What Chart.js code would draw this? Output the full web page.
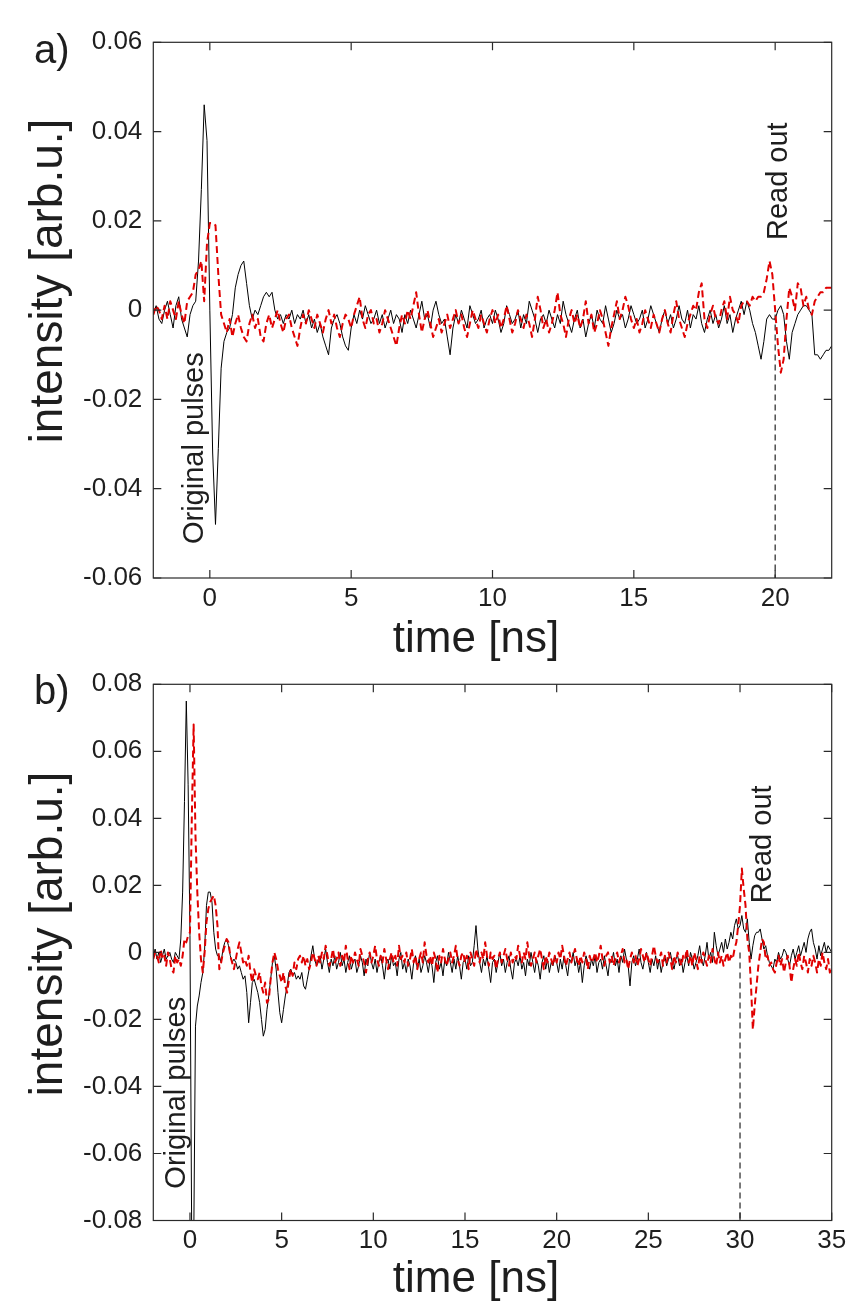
<!DOCTYPE html>
<html>
<head>
<meta charset="utf-8">
<script src="https://cdn.jsdelivr.net/npm/chart.js@4.4.1/dist/chart.umd.min.js"></script>
<style>
  html, body { margin: 0; padding: 0; background: #fff; }
  body { position: relative; width: 863px; height: 1309px; overflow: hidden; }
  canvas { position: absolute; left: 0; }
  #chartA { top: 0; }
  #chartB { top: 654px; }
</style>
</head>
<body>
<canvas id="chartA" width="863" height="670"></canvas>
<canvas id="chartB" width="863" height="655"></canvas>
<script>
/* ================================
   DATA (intensity in units of 1e-3, sampled every 0.1 ns)
================================ */
// panel a) starts at -2 ns
const A_T0 = -2;
const A_DT = 0.1;
const A_BLACK = [
  -1, 1, -2, -3, 0, 2, -1, -4, 1, 3,
  -2, -4, -6, -1, 1, 2, 11, 27, 46, 38,
  0, -32, -48, -31, -13, -7, -5, -4, -1, 5,
  8, 10, 11, 6, 1, -2, 0, -1, 1, 3,
  4, 3, 4, 0, -2, -1, -3, -1, -2, 0,
  -3, -1, -2, 0, -3, -1, -4, -2, -5, -3,
  -6, -8, -10, -4, -2, -1, -3, -6, -8, -9,
  -4, -1, -3, 0, -2, 1, -1, -3, -2, 0,
  -3, -1, -4, -2, 0, -3, -1, -2, -5, -1,
  -3, 0, -2, -4, -1, 2, -2, -1, -4, 0,
  2, -1, -3, -2, -6, -10, -4, -1, -3, 0,
  -2, -4, 1, -1, -3, -2, 0, -4, -2, -1,
  -3, 0, -2, -5, -3, 1, -1, -3, -2, 0,
  -4, -1, -3, 2, 0, -2, -5, -2, -1, -3,
  0, -2, -4, -1, -3, 2, -1, -3, -5, -2,
  0, -4, -2, -6, -3, -1, -4, 0, -2, -3,
  1, -2, -5, -3, 0, -2, -1, -4, -2, 1,
  -1, -3, -2, 0, -4, -2, 1, -1, -3, -5,
  -2, 0, -3, -1, -4, -2, 1, -2, -3, 0,
  -4, -1, -2, 1, -3, -5, -2, 0, -3, -1,
  -4, -2, 1, -3, -1, -5, -2, 0, 2, -1,
  2, 0, -3, -5, -8, -11, -7, -2, -1, -2,
  -2, 0, 1, -1, -7, -11, -5, -3, -1, 0,
  1, 1, 0, -1, -10, -10, -11, -10, -9, -9,
  -8
];
const A_RED = [
  -1, 1, 0, -2, 1, -2, 2, 0, -2, 2,
  -1, -3, 2, 3, 4, 8, 9, 11, 2, 15,
  19.5, 19.5, 19, 8, -1, -3, -5, -2, -6, -3,
  -1, -4, -6, -7, -3, -1, -4, -2, -6, -7,
  -3, -1, -4, -2, 0, -3, -5, -2, -1, -4,
  -6, -8, -4, -1, -3, 0, -2, -4, -1, -3,
  -5, -2, 0, -3, -1, -4, -6, -3, -1, -2,
  -4, -1, 1, 3, -2, -4, -1, 0, -3, -2,
  -5, -3, 0, -2, -4, -6, -8, -4, -1, -3,
  0, -2, 1, 4, -1, -5, -2, 0, -3, -6,
  -4, -2, -5, -3, -1, -4, -2, 0, -3, -1,
  -4, -6, -3, 0, -2, -4, -1, -3, -5, -2,
  0, -3, -1, -4, -2, 1, -2, -5, -3, 0,
  -2, -4, -1, -3, -6, -2, 3, 0, -4, -2,
  -5, -3, 0, 4, -1, -3, -6, -2, 0, -3,
  -1, -4, -2, 2, -3, -1, -5, -3, 0, -2,
  -5, -8, -4, -1, 2, -2, 0, 3, 1, -2,
  -4, -2, -5, -3, 0, -2, -4, -1, -3, -5,
  -2, 0, -3, -5, -1, 2, -2, -4, -6, -3,
  -1, 1, 0, 4, 6, -2, -4, -1, 1, -2,
  -3, 0, 2, -2, 3, 0, -1, -3, 1, 2,
  2, 1, 3, 2, 3, 3, 4, 7, 11, 8,
  0, -8, -14, -11, -2, 5, 3, 0, 6, 5,
  1, 3, 0, -1, 2, 3, 4, 4, 5, 5,
  5
];
const A_READOUT_T = 20;
const A_READOUT_Y = [-1, -60];
const A_XTICKS = [0, 5, 10, 15, 20];
const A_YTICKS = [-0.06, -0.04, -0.02, 0, 0.02, 0.04, 0.06];

// panel b) starts at -2 ns
const B_T0 = -2;
const B_DT = 0.1;
const B_BLACK = [
  -1, 1, -2, 0, -3, -1, 1, -2, -1, 0,
  -2, -3, 0, -1, -2, 4, 18, 45, 75, 50,
  5, -90, -90, -22, -16, -13, -9, -6, 1, 14,
  18, 18, 15, 6, 1, -1, -1, -3, 1, 3,
  4, 2, -1, -3, -2, -3, -5, -4, -6, -8,
  -7, -12, -21, -15, -9, -8, -10, -12, -15, -20,
  -25, -23, -17, -13, -8, -3, -1, -5, -12, -18,
  -21, -17, -13, -10, -6, -5, -7, -6, -8, -7,
  -8, -6, -10, -11, -8, -5, -1, 2, -2, -4,
  -3, -1, -5, -2, 1, -3, -6, -2, -4, -1,
  -5, -3, 0, -4, -2, -6, -3, -1, -5, -3,
  -2, -6, -4, -1, -3, -7, -2, -4, 0, -3,
  -5, -2, -6, -3, -1, -4, -8, -3, -2, -5,
  -1, -4, -3, -7, -2, 0, -5, -3, -6, -2,
  -4, -8, -3, -1, -5, -2, -6, -4, -1, -3,
  -6, -2, -4, -9, -3, -1, -5, -3, -7, -2,
  -4, 0, -3, -6, -2, -5, -1, -4, -8, -3,
  -2, -5, -1, -4, -3, 2, 8, 1, -3, -6,
  -2, -4, -1, -5, -9, -3, -2, -6, -3, 0,
  -4, -2, -6, -3, -1, -5, -8, -3, -2, -4,
  -1, -5, -3, -7, -2, -4, 0, -3, -6, -2,
  -4, -8, -3, -1, -5, -2, -6, -3, -4, -1,
  -3, -6, -2, -5, -1, -4, -7, -2, -3, 0,
  -4, -2, -6, -3, -9, -4, -1, -3, -5, -2,
  -4, -1, -6, -3, -2, -5, -1, -4, -7, -2,
  -3, 0, -4, -2, -6, -1, -3, 1, -2, -4,
  -10, -3, -1, -4, -2, 1, -3, -5, -2, 0,
  -3, -6, -2, -4, -1, -5, -2, -6, -3, -1,
  -4, -2, 0, -3, -5, -2, -1, -4, -2, -6,
  -3, -1, -4, 0, -2, -5, -3, -1, 2, -2,
  -4, -1, 3, -2, 0, -3, 6, 2, -1, 1,
  3, 0, 4, 1, 3, 6, 4, 8, 10, 7,
  8, 11, 7, 6, 10, 3, -2, 2, 5, 6,
  6, 7, 4, 1, 2, -1, -3, -4, -5, -2,
  -3, 0, -2, -1, 1, 0, -2, -4, -1, 1,
  -2, 0, 2, -1, 1, 3, 0, 4, 6, 7,
  3, 1, -2, 2, -1, 1, 3, 0, 2, 1,
  0
];
const B_RED = [
  -2, 0, -1, -3, 1, -2, -1, -4, 0, -2,
  -5, -6, -1, -3, -2, -4, -1, 4, 3, 5,
  6, 40, 68, 35, 18, 6, -2, -6, 0, 9,
  13, 15, 16, 17, 14, 8, -5, -3, 0, 2,
  4, 3, -1, -3, -5, -2, 1, 3, 0, -3,
  -2, -4, -1, -6, -9, -5, -7, -8, -6, -10,
  -12, -9, -15, -14, -8, -3, 0, -2, -5, -7,
  -9, -6, -10, -12, -8, -5, -7, -3, -5, -2,
  -1, -3, -1, -4, -2, -5, -3, 0, -2, -4,
  -1, -3, 0, -2, 2, -1, -4, -2, 1, -3,
  -2, 0, -4, -1, -3, 2, -2, -5, -1, -3,
  0, -2, -4, 1, -1, -3, -6, -2, 0, -3,
  -1, 2, -2, -4, -1, -3, 1, -2, -5, -2,
  0, -3, -1, -4, 2, -2, -1, -3, 0, -4,
  -2, 1, -3, -1, -5, -2, 0, -3, 3, -1,
  -3, -1, -4, 0, -2, -6, -1, -3, 1, -2,
  -4, -2, 0, -3, -1, 2, -2, -4, -1, 0,
  -3, -1, -5, 0, -2, -4, 1, -1, -3, 0,
  -2, 3, -1, -4, 0, -2, -1, -5, -2, 0,
  -3, -1, 1, -2, -4, 0, -3, -1, -2, 2,
  -1, -3, 0, -2, 3, -1, -4, -2, 0, -3,
  -1, 1, -2, -5, -1, -3, 0, -2, -4, -1,
  -3, 0, -2, 2, -1, -4, -2, 0, -3, -1,
  1, -2, -4, -1, -3, 0, -2, -5, -1, -3,
  -2, 0, -3, -1, 2, -2, -4, -1, 0, -3,
  -1, -4, -2, 0, -3, -1, 1, -3, -2, -5,
  -2, 0, -3, -1, -4, -2, 1, -1, -3, 0,
  -2, -4, -1, 2, -1, -3, -2, 0, -4, -1,
  -3, 0, -2, -5, -1, -3, 0, -2, -4, -1,
  -2, 1, -3, -1, -4, 0, -2, -5, -1, -3,
  0, -2, -4, -1, -3, 1, -2, -4, 0, -3,
  -1, -4, -2, 0, -3, -1, -2, 1, 3, 8,
  14, 25, 19, 14, 4, 0, -10, -23, -16, -10,
  -4, 0, 4, 3, -2, -1, -4, -3, -5, -6,
  -3, -1, -4, -2, -6, -3, -1, -4, -9, -5,
  -2, -4, 0, -3, -5, -1, -3, -6, -2, -4,
  -1, -3, -6, -2, -4, 0, -3, -5, -2, -6,
  -4
];
const B_READOUT_T = 30;
const B_READOUT_Y = [0, -80];
const B_XTICKS = [0, 5, 10, 15, 20, 25, 30, 35];
const B_YTICKS = [-0.08, -0.06, -0.04, -0.02, 0, 0.02, 0.04, 0.06, 0.08];

/* ================================
   HELPERS
================================ */
const FONT = '"Liberation Sans", Arial, Helvetica, sans-serif';
const INK = '#1e1e1e';
Chart.defaults.font.family = FONT;
Chart.defaults.color = INK;

function toPoints(vals, t0, dt) {
    return vals.map((v, i) => ({ x: +(t0 + i * dt).toFixed(2), y: v / 1000 }));
}

function yLabel(v) {
    return v === 0 ? '0' : v.toFixed(2);
}

// box, inward ticks and the free text (panel letter, axis titles, notes)
const framePlugin = {
    id: 'frame',
    afterDatasetsDraw(chart, args, opts) {
        const { ctx, chartArea: a, scales: { x, y } } = chart;
        ctx.save();
        ctx.strokeStyle = '#2a2a2a';
        ctx.lineWidth = 1.2;
        ctx.strokeRect(a.left, a.top, a.right - a.left, a.bottom - a.top);

        const tl = 8;
        ctx.beginPath();
        x.ticks.forEach(t => {
            const px = x.getPixelForValue(t.value);
            ctx.moveTo(px, a.bottom); ctx.lineTo(px, a.bottom - tl);
            ctx.moveTo(px, a.top); ctx.lineTo(px, a.top + tl);
        });
        y.ticks.forEach(t => {
            const py = y.getPixelForValue(t.value);
            ctx.moveTo(a.left, py); ctx.lineTo(a.left + tl, py);
            ctx.moveTo(a.right, py); ctx.lineTo(a.right - tl, py);
        });
        ctx.stroke();

        ctx.fillStyle = INK;
        ctx.textBaseline = 'alphabetic';

        // panel letter
        ctx.font = `40px ${FONT}`;
        ctx.textAlign = 'left';
        ctx.fillText(opts.panel, opts.panelPos[0], opts.panelPos[1]);

        // x title
        ctx.font = `44px ${FONT}`;
        ctx.textAlign = 'center';
        ctx.fillText(opts.xTitle, opts.xTitlePos[0], opts.xTitlePos[1]);

        // y title
        ctx.font = `46px ${FONT}`;
        ctx.save();
        ctx.translate(opts.yTitlePos[0], opts.yTitlePos[1]);
        ctx.rotate(-Math.PI / 2);
        ctx.fillText(opts.yTitle, 0, 0);
        ctx.restore();

        // vertical notes anchored in data space
        ctx.font = `29px ${FONT}`;
        ctx.textAlign = 'left';
        opts.notes.forEach(n => {
            ctx.save();
            ctx.translate(x.getPixelForValue(n.t), y.getPixelForValue(n.v));
            ctx.rotate(-Math.PI / 2);
            ctx.fillText(n.text, 0, 0);
            ctx.restore();
        });
        ctx.restore();
    }
};

function makeChart(id, cfg) {
    return new Chart(document.getElementById(id), {
        type: 'line',
        data: {
            datasets: [
                {
                    data: toPoints(cfg.red, cfg.t0, cfg.dt),
                    borderColor: '#e00000',
                    borderWidth: 2,
                    borderDash: [7, 4],
                    order: 0
                },
                {
                    data: toPoints(cfg.black, cfg.t0, cfg.dt),
                    borderColor: '#000000',
                    borderWidth: 1,
                    order: 1
                },
                {
                    data: cfg.readY.map(v => ({ x: cfg.readT, y: v / 1000 })),
                    borderColor: '#222222',
                    borderWidth: 1.2,
                    borderDash: [6, 4],
                    order: 2
                }
            ]
        },
        options: {
            responsive: false,
            animation: false,
            clip: 0,
            elements: {
                point: { radius: 0 },
                line: { tension: 0, fill: false, borderJoinStyle: 'round' }
            },
            layout: { padding: cfg.pad },
            plugins: {
                legend: { display: false },
                tooltip: { enabled: false },
                frame: cfg.frame
            },
            scales: {
                x: {
                    type: 'linear',
                    min: cfg.xMin,
                    max: cfg.xMax,
                    afterBuildTicks: s => { s.ticks = cfg.xTicks.map(v => ({ value: v })); },
                    afterFit: s => { s.height = cfg.xHeight; s.paddingLeft = 0; s.paddingRight = 0; },
                    grid: { display: false, drawTicks: false },
                    border: { display: false },
                    ticks: { font: { size: 26 }, color: INK, padding: 5, maxRotation: 0, autoSkip: false, callback: v => String(v) }
                },
                y: {
                    type: 'linear',
                    min: cfg.yMin,
                    max: cfg.yMax,
                    afterBuildTicks: s => { s.ticks = cfg.yTicks.map(v => ({ value: v })); },
                    afterFit: s => { s.width = cfg.yWidth; s.paddingTop = 0; s.paddingBottom = 0; },
                    grid: { display: false, drawTicks: false },
                    border: { display: false },
                    ticks: { font: { size: 26 }, color: INK, padding: 11, autoSkip: false, callback: yLabel }
                }
            }
        },
        plugins: [framePlugin]
    });
}

/* ================================
   CHARTS
================================ */
makeChart('chartA', {
    t0: A_T0, dt: A_DT, black: A_BLACK, red: A_RED,
    readT: A_READOUT_T, readY: A_READOUT_Y,
    xMin: -2, xMax: 22, yMin: -0.06, yMax: 0.06,
    xTicks: A_XTICKS, yTicks: A_YTICKS,
    pad: { top: 42.3, right: 31.3, left: 0, bottom: 0 },
    yWidth: 153.3, xHeight: 92,
    frame: {
        panel: 'a)', panelPos: [34, 63],
        xTitle: 'time [ns]', xTitlePos: [476, 652],
        yTitle: 'intensity [arb.u.]', yTitlePos: [62, 281],
        notes: [
            { text: 'Original pulses', t: -0.25, v: -0.0524 },
            { text: 'Read out', t: 20.42, v: 0.0157 }
        ]
    }
});

makeChart('chartB', {
    t0: B_T0, dt: B_DT, black: B_BLACK, red: B_RED,
    readT: B_READOUT_T, readY: B_READOUT_Y,
    xMin: -2, xMax: 35, yMin: -0.08, yMax: 0.08,
    xTicks: B_XTICKS, yTicks: B_YTICKS,
    pad: { top: 30.3, right: 31.3, left: 0, bottom: 0 },
    yWidth: 153.3, xHeight: 88.5,
    frame: {
        panel: 'b)', panelPos: [34, 50],
        xTitle: 'time [ns]', xTitlePos: [476, 638],
        yTitle: 'intensity [arb.u.]', yTitlePos: [62, 280],
        notes: [
            { text: 'Original pulses', t: -0.28, v: -0.0705 },
            { text: 'Read out', t: 31.68, v: 0.0147 }
        ]
    }
});
</script>
</body>
</html>
